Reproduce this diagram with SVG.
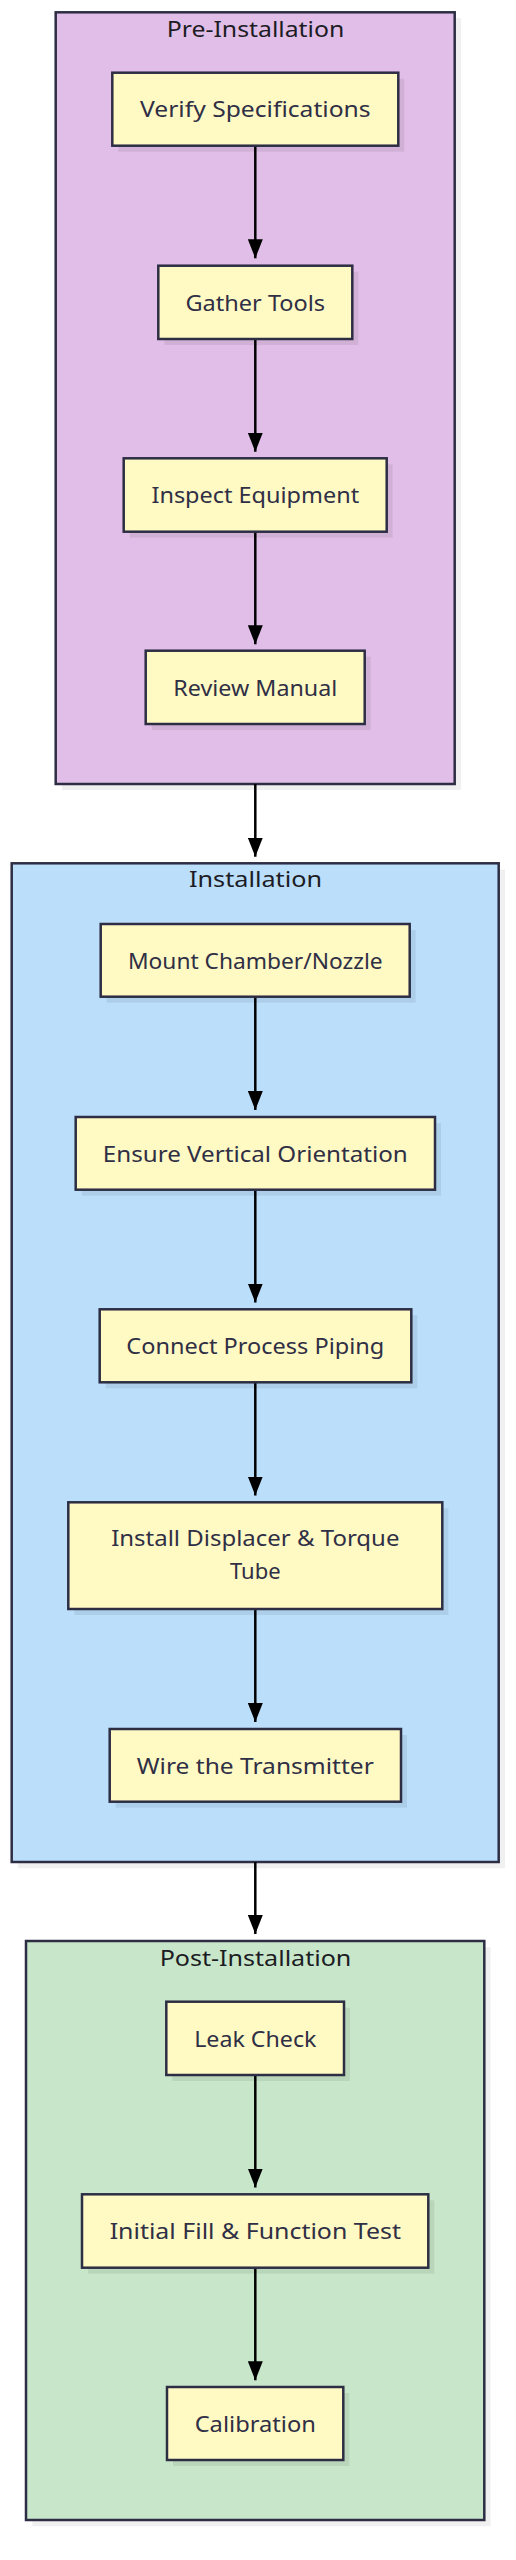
<svg xmlns="http://www.w3.org/2000/svg" width="516" height="2560" viewBox="0 0 516 2560">
<style>
.cl{stroke:#2d2d44;stroke-width:2.5}
.csh{fill:#000;fill-opacity:0.06}
.nsh{fill:#000;fill-opacity:0.07}
.nd{fill:#FFF9C4;stroke:#2d2d44;stroke-width:2.5}
.tt{font-family:"Noto Sans","Liberation Sans",sans-serif;font-size:22px;fill:#1c1c24;text-anchor:middle}
.nt{font-family:"Noto Sans","Liberation Sans",sans-serif;font-size:22px;fill:#2f2f45;text-anchor:middle}
.ed{stroke:#000;stroke-width:2.5;fill:none;marker-end:url(#ah)}
</style>
<defs>
<marker id="ah" markerWidth="19" markerHeight="15" refX="19" refY="7.5" orient="auto" markerUnits="userSpaceOnUse">
<path d="M0,0 L19,7.5 L0,15 z" fill="#000"/>
</marker>
</defs>
<rect width="516" height="2560" fill="#fff"/>

<g id="cluster-pre">
<rect class="csh" x="62" y="18" width="399" height="772"/>
<rect class="cl" x="55.7" y="12.3" width="399" height="771.7" fill="#E1BEE7"/>
<text class="tt" x="255.5" y="36.7" textLength="177.6" lengthAdjust="spacingAndGlyphs">Pre-Installation</text>
</g>
<g id="cluster-inst">
<rect class="csh" x="18" y="869.5" width="487" height="998.7"/>
<rect class="cl" x="11.7" y="863.3" width="487" height="998.7" fill="#BBDEFB"/>
<text class="tt" x="255.5" y="887.3" textLength="133" lengthAdjust="spacingAndGlyphs">Installation</text>
</g>
<g id="cluster-post">
<rect class="csh" x="32.3" y="1947.3" width="458.3" height="579"/>
<rect class="cl" x="26" y="1941" width="458.3" height="579" fill="#C8E6C9"/>
<text class="tt" x="255.5" y="1965.7" textLength="191.7" lengthAdjust="spacingAndGlyphs">Post-Installation</text>
</g>

<g id="edges">
<line class="ed" x1="255.3" y1="146" x2="255.3" y2="258.3"/>
<line class="ed" x1="255.3" y1="339" x2="255.3" y2="451.7"/>
<line class="ed" x1="255.3" y1="531.7" x2="255.3" y2="644.3"/>
<line class="ed" x1="255.3" y1="784" x2="255.3" y2="856.7"/>
<line class="ed" x1="255.3" y1="996.7" x2="255.3" y2="1110"/>
<line class="ed" x1="255.3" y1="1189.7" x2="255.3" y2="1302.5"/>
<line class="ed" x1="255.3" y1="1382.3" x2="255.3" y2="1495.5"/>
<line class="ed" x1="255.3" y1="1609" x2="255.3" y2="1722"/>
<line class="ed" x1="255.3" y1="1862" x2="255.3" y2="1934"/>
<line class="ed" x1="255.3" y1="2075" x2="255.3" y2="2187.5"/>
<line class="ed" x1="255.3" y1="2267.7" x2="255.3" y2="2380.3"/>
</g>

<g id="n-verify">
<rect class="nsh" x="118.3" y="78.7" width="286" height="73"/>
<rect class="nd" x="112.3" y="72.7" width="286" height="73"/>
<text class="nt" x="255.3" y="117.3" textLength="230.7" lengthAdjust="spacingAndGlyphs">Verify Specifications</text>
</g>
<g id="n-gather">
<rect class="nsh" x="164.3" y="271.7" width="194" height="73.3"/>
<rect class="nd" x="158.3" y="265.7" width="194" height="73.3"/>
<text class="nt" x="255.3" y="310.5" textLength="139.7" lengthAdjust="spacingAndGlyphs">Gather Tools</text>
</g>
<g id="n-inspect">
<rect class="nsh" x="129.7" y="464.3" width="263" height="73.4"/>
<rect class="nd" x="123.7" y="458.3" width="263" height="73.4"/>
<text class="nt" x="255.3" y="503" textLength="207.7" lengthAdjust="spacingAndGlyphs">Inspect Equipment</text>
</g>
<g id="n-review">
<rect class="nsh" x="151.7" y="656.7" width="219" height="73.3"/>
<rect class="nd" x="145.7" y="650.7" width="219" height="73.3"/>
<text class="nt" x="255.3" y="695.5" textLength="164" lengthAdjust="spacingAndGlyphs">Review Manual</text>
</g>

<g id="n-mount">
<rect class="nsh" x="106.7" y="930" width="309" height="72.7"/>
<rect class="nd" x="100.7" y="924" width="309" height="72.7"/>
<text class="nt" x="255.3" y="968.5" textLength="254.7" lengthAdjust="spacingAndGlyphs">Mount Chamber/Nozzle</text>
</g>
<g id="n-ensure">
<rect class="nsh" x="81.7" y="1123" width="359.3" height="72.7"/>
<rect class="nd" x="75.7" y="1117" width="359.3" height="72.7"/>
<text class="nt" x="255.3" y="1161.5" textLength="305" lengthAdjust="spacingAndGlyphs">Ensure Vertical Orientation</text>
</g>
<g id="n-connect">
<rect class="nsh" x="105.7" y="1315.3" width="311.6" height="73"/>
<rect class="nd" x="99.7" y="1309.3" width="311.6" height="73"/>
<text class="nt" x="255.3" y="1354" textLength="258" lengthAdjust="spacingAndGlyphs">Connect Process Piping</text>
</g>
<g id="n-install">
<rect class="nsh" x="74.3" y="1508.3" width="374" height="106.7"/>
<rect class="nd" x="68.3" y="1502.3" width="374" height="106.7"/>
<text class="nt" x="255.3" y="1545.7" textLength="288.3" lengthAdjust="spacingAndGlyphs">Install Displacer &amp; Torque</text>
<text class="nt" x="255.3" y="1579.3" textLength="50.7" lengthAdjust="spacingAndGlyphs">Tube</text>
</g>
<g id="n-wire">
<rect class="nsh" x="115.7" y="1735" width="291.3" height="72.7"/>
<rect class="nd" x="109.7" y="1729" width="291.3" height="72.7"/>
<text class="nt" x="255.3" y="1773.5" textLength="237" lengthAdjust="spacingAndGlyphs">Wire the Transmitter</text>
</g>

<g id="n-leak">
<rect class="nsh" x="172.3" y="2007.7" width="177.7" height="73.3"/>
<rect class="nd" x="166.3" y="2001.7" width="177.7" height="73.3"/>
<text class="nt" x="255.3" y="2046.5" textLength="122.3" lengthAdjust="spacingAndGlyphs">Leak Check</text>
</g>
<g id="n-initial">
<rect class="nsh" x="88" y="2200.3" width="346.3" height="73.4"/>
<rect class="nd" x="82" y="2194.3" width="346.3" height="73.4"/>
<text class="nt" x="255.3" y="2239" textLength="291.3" lengthAdjust="spacingAndGlyphs">Initial Fill &amp; Function Test</text>
</g>
<g id="n-calib">
<rect class="nsh" x="173" y="2393" width="176.3" height="73"/>
<rect class="nd" x="167" y="2387" width="176.3" height="73"/>
<text class="nt" x="255.3" y="2431.7" textLength="121.3" lengthAdjust="spacingAndGlyphs">Calibration</text>
</g>
</svg>
